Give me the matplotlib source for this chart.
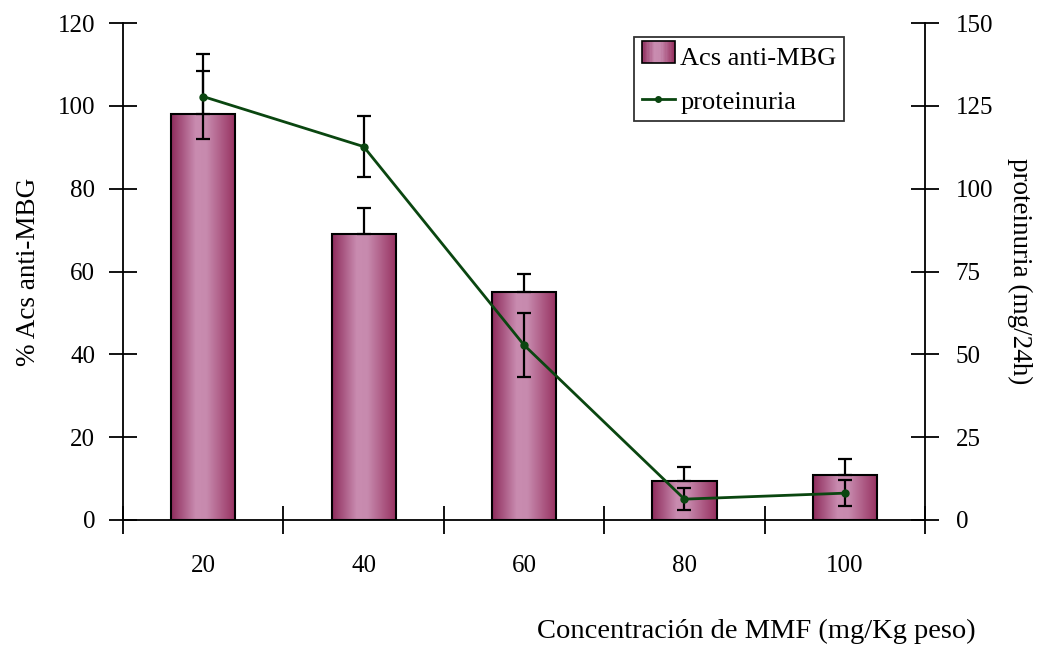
import numpy as np
import matplotlib.pyplot as plt
from matplotlib.colors import LinearSegmentedColormap
from matplotlib.patches import Rectangle
from matplotlib.legend_handler import HandlerBase

# ---------------- data ----------------
doses = ['20', '40', '60', '80', '100']
acs = [98.0, 69.0, 55.0, 9.4, 10.9]          # % Acs anti-MBG (bars)
acs_err = [10.5, 6.3, 4.3, 3.4, 3.8]         # upper error only
prot = [127.8, 112.7, 52.8, 6.3, 8.1]        # proteinuria mg/24h (line)
prot_err = [12.7, 9.2, 9.7, 3.3, 3.9]
# --------------------------------------------------------------

plt.rcParams['font.family'] = ['Liberation Serif', 'DejaVu Serif']

grad = LinearSegmentedColormap.from_list(
    'mauve', [(0.0, '#8e2c5c'), (0.38, '#c98cb0'), (0.55, '#c78aae'), (1.0, '#96305f')])
gvals = np.linspace(0, 1, 128).reshape(1, -1)


class GradientHandler(HandlerBase):
    def create_artists(self, legend, orig, xd, yd, w, h, fontsize, trans):
        arts = []
        n = 24
        for i in range(n):
            r = Rectangle((xd + w * i / n, yd), w / n + 0.3, h,
                          facecolor=grad((i + 0.5) / n), edgecolor='none', transform=trans)
            arts.append(r)
        arts.append(Rectangle((xd, yd), w, h, facecolor='none', edgecolor='black',
                              lw=1.2, transform=trans))
        return arts


fig = plt.figure(figsize=(10.41, 6.5), dpi=100)
ax = fig.add_axes([0.1182, 0.2, 0.7704, 0.7646])
ax2 = ax.twinx()

x = np.arange(len(doses))
bw = 0.4
bars = ax.bar(x, acs, width=bw, facecolor='none', edgecolor='black', linewidth=1.5, zorder=3)
for b in bars:
    im = ax.imshow(gvals, cmap=grad, aspect='auto', zorder=2,
                   extent=[b.get_x(), b.get_x() + b.get_width(), 0, b.get_height()])
    im.set_clip_path(b)
ax.errorbar(x, acs, yerr=[np.zeros(len(acs)), acs_err], fmt='none', ecolor='black',
            elinewidth=1.6, capsize=5, capthick=1.6, zorder=4)

ax2.errorbar(x, prot, yerr=prot_err, fmt='none', ecolor='black',
             elinewidth=1.6, capsize=5, capthick=1.6, zorder=3)
ax2.plot(x, prot, color='#0a4610', lw=2.0, marker='o', markersize=5, zorder=4)

ax.set_xlim(-0.5, len(doses) - 0.5)
ax.set_ylim(0, 120)
ax2.set_ylim(0, 150)
ax.set_yticks(np.arange(0, 121, 20))
ax2.set_yticks(np.arange(0, 151, 25))

# tick marks between categories, labels under the bars
ax.set_xticks(np.arange(-0.5, len(doses), 1.0))
ax.set_xticklabels([])
ax.set_xticks(x, minor=True)
ax.set_xticklabels(doses, minor=True)
ax.tick_params(axis='x', which='minor', length=0, pad=25, labelsize=18)
ax.tick_params(axis='x', which='major', direction='inout', length=20, width=1.3)
ax.tick_params(axis='y', direction='inout', length=20, width=1.3, pad=10, labelsize=18)
ax2.tick_params(axis='y', direction='inout', length=20, width=1.3, pad=12, labelsize=18)

for a in (ax, ax2):
    a.spines['top'].set_visible(False)
    for s in ('left', 'right', 'bottom'):
        a.spines[s].set_linewidth(1.3)
ax.spines['right'].set_visible(False)
ax2.spines['left'].set_visible(False)
ax2.spines['bottom'].set_visible(False)

ax.set_ylabel('% Acs anti-MBG', fontsize=19.5, labelpad=12)
ax2.set_ylabel('proteinuria (mg/24h)', fontsize=19.5, rotation=270, labelpad=28)
fig.text(0.937, 0.028, 'Concentración de MMF (mg/Kg peso)', fontsize=20.5,
         ha='right', va='center')

h1 = Rectangle((0, 0), 1, 1)
h2, = ax2.plot([], [], color='#0a4610', lw=2.0, marker='o', markersize=4)
leg = fig.legend([h1, h2], ['Acs anti-MBG', 'proteinuria'],
                 handler_map={Rectangle: GradientHandler()},
                 loc='upper left', bbox_to_anchor=(0.609, 0.943), fontsize=19,
                 frameon=True, fancybox=False, edgecolor='black',
                 handlelength=1.25, handleheight=0.9, handletextpad=0.2,
                 borderpad=0.3, labelspacing=0.7, borderaxespad=0)
leg.get_frame().set_linewidth(1.3)

fig.savefig('out.png', dpi=100)
